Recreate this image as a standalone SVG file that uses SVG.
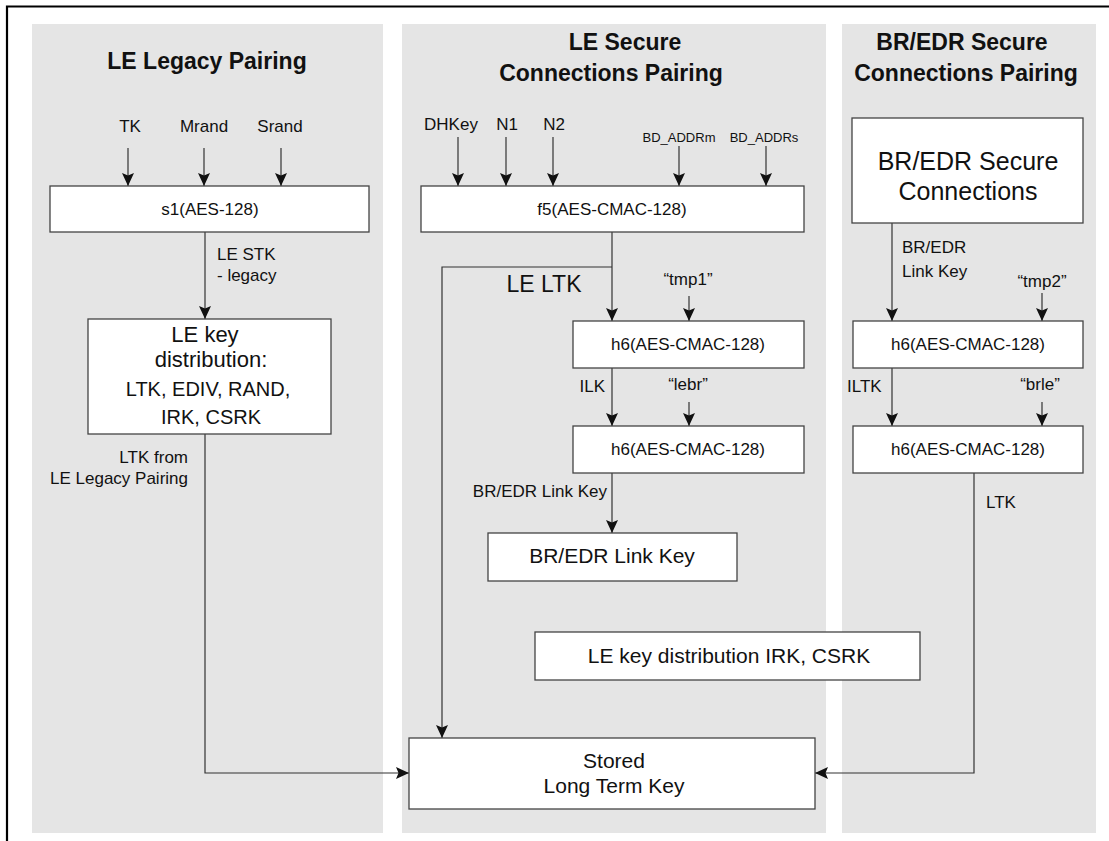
<svg xmlns="http://www.w3.org/2000/svg" width="1109" height="841" viewBox="0 0 1109 841">
  <style>
    .panel { fill: #e5e5e5; }
    .box { fill: #ffffff; stroke: #444444; stroke-width: 1.3; }
    .wire { fill: none; stroke: #333333; stroke-width: 1.2; }
    .title { font-family: "Liberation Sans", Arial, sans-serif; font-size: 23px; font-weight: bold; fill: #111111; text-anchor: middle; }
    .lbl { font-family: "Liberation Sans", Arial, sans-serif; font-size: 17px; fill: #111111; }
    .small { font-family: "Liberation Sans", Arial, sans-serif; font-size: 13px; fill: #111111; text-anchor: middle; }
    .fn { font-family: "Liberation Sans", Arial, sans-serif; font-size: 17px; fill: #111111; text-anchor: middle; }
    .big { font-family: "Liberation Sans", Arial, sans-serif; font-size: 21px; fill: #111111; text-anchor: middle; }
    .huge { font-family: "Liberation Sans", Arial, sans-serif; font-size: 23px; fill: #111111; text-anchor: middle; }
    .mid { text-anchor: middle; }
    .end { text-anchor: end; }
  </style>
  <defs>
    <marker id="arrow" markerUnits="userSpaceOnUse" markerWidth="14" markerHeight="12" refX="13" refY="6" orient="auto">
      <path d="M0,0 L13,6 L0,12 L2.5,6 Z" fill="#111111"/>
    </marker>
  </defs>

  <!-- outer frame -->
  <path d="M7,841 V6.5 H1109" fill="none" stroke="#000000" stroke-width="2.2"/>

  <!-- column backgrounds -->
  <rect class="panel" x="32" y="24" width="351" height="809"/>
  <rect class="panel" x="402" y="24" width="424" height="809"/>
  <rect class="panel" x="842" y="24" width="254" height="809"/>

  <!-- column titles -->
  <text class="title" x="207" y="69">LE Legacy Pairing</text>
  <text class="title" x="625" y="50">LE Secure</text>
  <text class="title" x="611" y="81">Connections Pairing</text>
  <text class="title" x="962" y="50">BR/EDR Secure</text>
  <text class="title" x="966" y="81">Connections Pairing</text>

  <!-- connectors -->
  <g id="connectors">
    <!-- legacy inputs -->
    <line class="wire" x1="128" y1="148" x2="128" y2="186" marker-end="url(#arrow)"/>
    <line class="wire" x1="204" y1="148" x2="204" y2="186" marker-end="url(#arrow)"/>
    <line class="wire" x1="281" y1="148" x2="281" y2="186" marker-end="url(#arrow)"/>
    <line class="wire" x1="205" y1="232" x2="205" y2="319" marker-end="url(#arrow)"/>
    <path class="wire" d="M205,434 V773 H409" marker-end="url(#arrow)"/>

    <!-- LE secure connections inputs -->
    <line class="wire" x1="458" y1="137" x2="458" y2="186" marker-end="url(#arrow)"/>
    <line class="wire" x1="506" y1="137" x2="506" y2="186" marker-end="url(#arrow)"/>
    <line class="wire" x1="553" y1="137" x2="553" y2="186" marker-end="url(#arrow)"/>
    <line class="wire" x1="679" y1="146" x2="679" y2="186" marker-end="url(#arrow)"/>
    <line class="wire" x1="766" y1="146" x2="766" y2="186" marker-end="url(#arrow)"/>
    <line class="wire" x1="612" y1="232" x2="612" y2="321" marker-end="url(#arrow)"/>
    <path class="wire" d="M612,267 H442 V738" marker-end="url(#arrow)"/>
    <line class="wire" x1="689" y1="296" x2="689" y2="321" marker-end="url(#arrow)"/>
    <line class="wire" x1="612" y1="368" x2="612" y2="426" marker-end="url(#arrow)"/>
    <line class="wire" x1="689" y1="402" x2="689" y2="426" marker-end="url(#arrow)"/>
    <line class="wire" x1="612" y1="473" x2="612" y2="533" marker-end="url(#arrow)"/>

    <!-- BR/EDR secure connections -->
    <line class="wire" x1="892" y1="223" x2="892" y2="321" marker-end="url(#arrow)"/>
    <line class="wire" x1="1042" y1="293" x2="1042" y2="321" marker-end="url(#arrow)"/>
    <line class="wire" x1="892" y1="368" x2="892" y2="426" marker-end="url(#arrow)"/>
    <line class="wire" x1="1042" y1="402" x2="1042" y2="426" marker-end="url(#arrow)"/>
    <path class="wire" d="M974,473 V773 H815" marker-end="url(#arrow)"/>

    <!-- connector labels -->
    <text class="lbl mid" x="130" y="132">TK</text>
    <text class="lbl mid" x="204" y="132">Mrand</text>
    <text class="lbl mid" x="280" y="132">Srand</text>
    <text class="lbl" x="217" y="260">LE STK</text>
    <text class="lbl" x="217" y="281">- legacy</text>
    <text class="lbl end" x="188" y="463">LTK from</text>
    <text class="lbl end" x="188" y="484">LE Legacy Pairing</text>

    <text class="lbl mid" x="451" y="130">DHKey</text>
    <text class="lbl mid" x="507" y="130">N1</text>
    <text class="lbl mid" x="554" y="130">N2</text>
    <text class="small" x="679" y="142">BD_ADDRm</text>
    <text class="small" x="764" y="142">BD_ADDRs</text>
    <text class="huge" x="544" y="292">LE LTK</text>
    <text class="lbl mid" x="688" y="285">“tmp1”</text>
    <text class="lbl end" x="605" y="392">ILK</text>
    <text class="lbl mid" x="688" y="390">“lebr”</text>
    <text class="lbl end" x="607" y="497">BR/EDR Link Key</text>

    <text class="lbl" x="902" y="253">BR/EDR</text>
    <text class="lbl" x="902" y="277">Link Key</text>
    <text class="lbl mid" x="1042" y="287">“tmp2”</text>
    <text class="lbl" x="847" y="392">ILTK</text>
    <text class="lbl mid" x="1040" y="390">“brle”</text>
    <text class="lbl" x="986" y="508">LTK</text>
  </g>

  <!-- LE legacy pairing -->
  <g id="s1">
    <rect class="box" x="50" y="186" width="319" height="46"/>
    <text class="fn" x="210" y="215">s1(AES-128)</text>
  </g>
  <g id="le-key-distribution">
    <rect class="box" x="88" y="319" width="243" height="115"/>
    <text class="huge" x="205" y="342" style="font-size:22px">LE key</text>
    <text class="huge" x="211" y="367" style="font-size:22px">distribution:</text>
    <text class="fn" x="208" y="396" style="font-size:20px">LTK, EDIV, RAND,</text>
    <text class="fn" x="211" y="424" style="font-size:20px">IRK, CSRK</text>
  </g>

  <!-- LE secure connections pairing -->
  <g id="f5">
    <rect class="box" x="421" y="186" width="383" height="46"/>
    <text class="fn" x="612" y="215">f5(AES-CMAC-128)</text>
  </g>
  <g id="h6-tmp1">
    <rect class="box" x="573" y="321" width="231" height="47"/>
    <text class="fn" x="688" y="350">h6(AES-CMAC-128)</text>
  </g>
  <g id="h6-lebr">
    <rect class="box" x="573" y="426" width="231" height="47"/>
    <text class="fn" x="688" y="455">h6(AES-CMAC-128)</text>
  </g>
  <g id="bredr-link-key">
    <rect class="box" x="488" y="533" width="249" height="48"/>
    <text class="big" x="612" y="563">BR/EDR Link Key</text>
  </g>
  <g id="le-key-distribution-irk-csrk">
    <rect class="box" x="535" y="632" width="385" height="48"/>
    <text class="big" x="729" y="663">LE key distribution IRK, CSRK</text>
  </g>
  <g id="stored-ltk">
    <rect class="box" x="409" y="738" width="406" height="71"/>
    <text class="big" x="614" y="768">Stored</text>
    <text class="big" x="614" y="793">Long Term Key</text>
  </g>

  <!-- BR/EDR secure connections pairing -->
  <g id="bredr-sc">
    <rect class="box" x="852" y="118" width="231" height="105"/>
    <text class="big" x="968" y="170" style="font-size:25px">BR/EDR Secure</text>
    <text class="big" x="968" y="200" style="font-size:25px">Connections</text>
  </g>
  <g id="h6-tmp2">
    <rect class="box" x="853" y="321" width="230" height="47"/>
    <text class="fn" x="968" y="350">h6(AES-CMAC-128)</text>
  </g>
  <g id="h6-brle">
    <rect class="box" x="853" y="426" width="230" height="47"/>
    <text class="fn" x="968" y="455">h6(AES-CMAC-128)</text>
  </g>
</svg>
